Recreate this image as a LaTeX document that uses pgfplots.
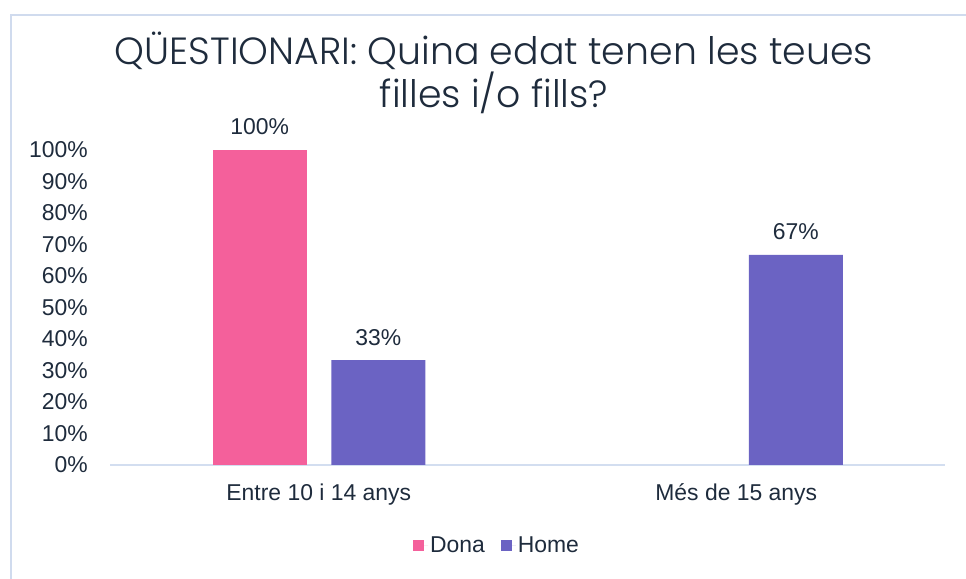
\documentclass[border=0pt]{standalone}
\usepackage{fontspec}
\setmainfont{Liberation Sans}
\newfontfamily\titlefont{Poppins Light}
\usepackage{pgfplots}
\pgfplotsset{compat=1.18}
\definecolor{dona}{HTML}{F4609B}
\definecolor{home}{HTML}{6B63C3}
\definecolor{txt}{HTML}{1E2B3C}
\definecolor{axl}{HTML}{D3DEF0}
\definecolor{frm}{HTML}{D0DBEE}
\begin{document}
\begin{tikzpicture}[x=1bp,y=1bp]
\path[use as bounding box] (0,0) rectangle (966,579);
\draw[frm, line width=2bp] (11,0) -- (11,564) -- (966,564);
\node[anchor=base, text=txt, inner sep=0pt, font=\titlefont\fontsize{38}{40}\selectfont] at (494,514) {QÜESTIONARI: Quina edat tenen les teues};
\node[anchor=base, text=txt, inner sep=0pt, font=\titlefont\fontsize{38}{40}\selectfont] at (494,471) {filles i/o fills?};
\begin{axis}[
  at={(110bp,114bp)}, anchor=south west,
  x=417.5bp, y=3.15bp,
  xmin=-0.5, xmax=1.5, ymin=0, ymax=100,
  axis x line*=bottom, axis y line*=left,
  x axis line style={draw=axl, line width=1.5bp},
  y axis line style={draw=none},
  tick style={draw=none},
  /pgf/number format/assume math mode=true,
  ytick={0,10,...,100},
  yticklabel={\pgfmathprintnumber{\tick}\%},
  yticklabel style={inner sep=0pt, anchor=east, xshift=-22bp, text=txt, font=\fontsize{23}{27}\selectfont},
  xtick={0,1},
  xticklabels={Entre 10 i 14 anys, Més de 15 anys},
  xticklabel style={inner sep=0pt, anchor=base, yshift=-36bp, text=txt, font=\fontsize{23}{27}\selectfont},
  legend style={at={(0.4635,-0.254)}, anchor=center, draw=none, fill=none, legend columns=2,
    font=\fontsize{23}{27}\selectfont, text=txt,
    /tikz/every even column/.append style={column sep=14bp}},
  legend image code/.code={\fill[#1] (0bp,-5.5bp) rectangle (11bp,5.5bp); \path (0bp,0bp) -- (15bp,0bp);},
  clip=false,
]
\addplot[ybar, bar width=94bp, bar shift=-59bp, fill=dona, draw=none,
  point meta=y, nodes near coords={\pgfmathprintnumber[fixed,precision=0]{\pgfplotspointmeta}\%},
  every node near coord/.append style={anchor=base, inner sep=0pt, xshift=-59bp, yshift=15bp, text=txt, font=\fontsize{23}{27}\selectfont}]
  coordinates {(0,100)};
\addlegendentry{Dona}
\addplot[ybar, bar width=94bp, bar shift=59.5bp, fill=home, draw=none,
  point meta=y, nodes near coords={\pgfmathprintnumber[fixed,precision=0]{\pgfplotspointmeta}\%},
  every node near coord/.append style={anchor=base, inner sep=0pt, xshift=59.5bp, yshift=15bp, text=txt, font=\fontsize{23}{27}\selectfont}]
  coordinates {(0,33.33) (1,66.67)};
\addlegendentry{Home}
\end{axis}
\end{tikzpicture}
\end{document}
